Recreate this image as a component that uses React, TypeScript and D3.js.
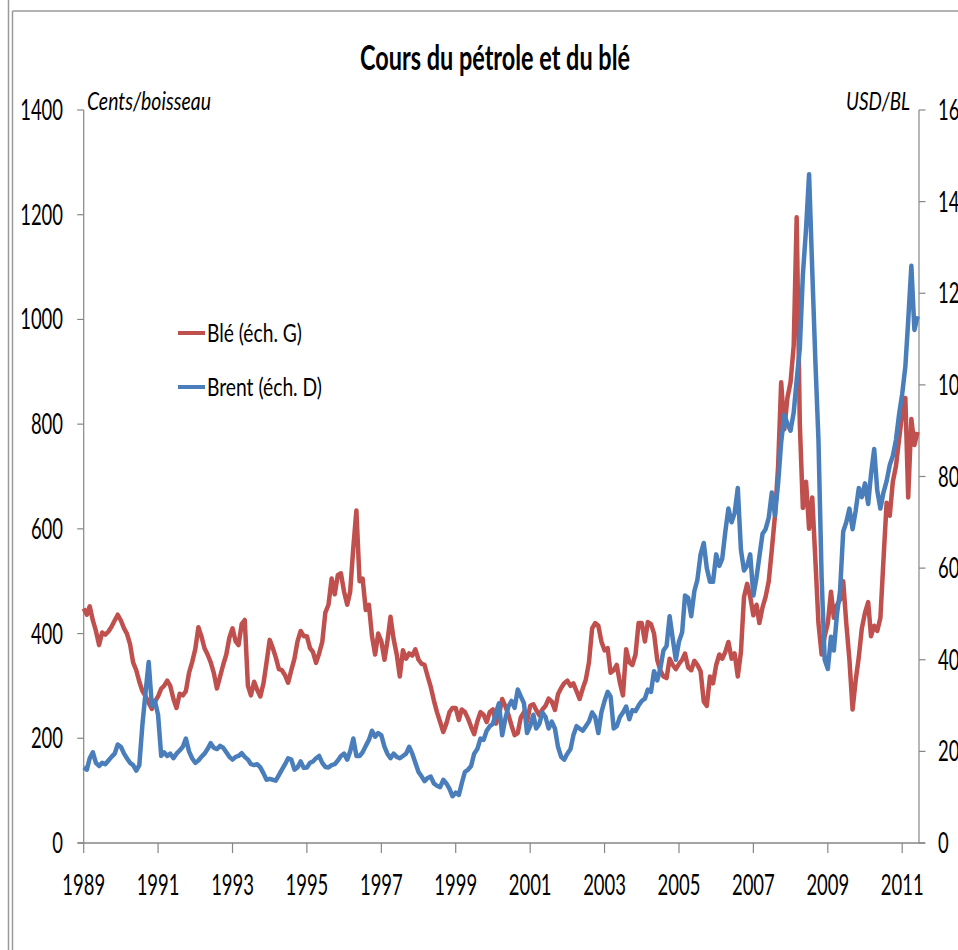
import React from "react";
import * as d3 from "d3";

// Monthly values, Jan 1989 .. Jun 2011
const wheatCents: number[] = [
  // 1989
  448, 436, 452, 425, 405, 378, 402, 398, 404, 413, 425, 436,
  // 1990
  425, 410, 400, 380, 345, 330, 308, 290, 280, 268, 256, 270,
  // 1991
  280, 295, 300, 310, 300, 275, 258, 285, 282, 290, 325, 345,
  // 1992
  370, 412, 395, 372, 360, 345, 325, 295, 318, 340, 360, 392,
  // 1993
  410, 385, 378, 418, 426, 300, 282, 308, 292, 280, 305, 345,
  // 1994
  388, 372, 355, 332, 330, 320, 306, 330, 352, 385, 405, 395,
  // 1995
  395, 372, 365, 344, 362, 384, 440, 455, 505, 475, 512, 515,
  // 1996
  480, 455, 480, 565, 635, 500, 505, 445, 455, 395, 360, 400,
  // 1997
  385, 350, 385, 432, 390, 360, 318, 368, 352, 362, 358, 370,
  // 1998
  350, 342, 340, 318, 298, 272, 250, 231, 212, 228, 250, 258,
  // 1999
  258, 235, 255, 250, 238, 222, 208, 232, 250, 245, 231, 250,
  // 2000
  255, 228, 245, 275, 262, 245, 225, 206, 210, 240, 250, 232,
  // 2001
  262, 265, 254, 244, 255, 262, 276, 270, 254, 284, 296, 305,
  // 2002
  310, 300, 305, 290, 275, 295, 312, 345, 410, 420, 415, 385,
  // 2003
  368, 372, 325, 330, 340, 306, 282, 370, 345, 340, 360, 420,
  // 2004
  420, 385, 422, 418, 400, 350, 330, 318, 315, 352, 340, 332,
  // 2005
  342, 350, 362, 335, 330, 348, 340, 328, 270, 262, 318, 305,
  // 2006
  340, 360, 352, 365, 384, 352, 362, 318, 365, 470, 495, 470,
  // 2007
  435, 455, 420, 450, 470, 500, 560, 625, 720, 880, 790, 850,
  // 2008
  880, 950, 1195, 800, 640, 690, 600, 660, 540, 420, 360, 395,
  // 2009
  420, 480, 430, 455, 465, 500, 420, 350, 255, 310, 355, 410,
  // 2010
  440, 460, 395, 415, 405, 430, 540, 650, 625, 690, 720, 770,
  // 2011
  820, 850, 660, 810, 760, 785,
];

const brentUsd: number[] = [
  // 1989
  16.5, 16.0, 18.5, 19.8, 17.5, 16.8, 17.5, 17.2, 18.0, 18.8, 19.5, 21.5,
  // 1990
  21.0, 19.5, 18.5, 17.5, 17.0, 15.8, 17.0, 26.0, 33.0, 39.5, 30.0, 31.0,
  // 1991
  28.0, 19.0, 19.8, 19.0, 19.5, 18.5, 19.5, 20.2, 21.0, 22.8, 20.0, 18.5,
  // 1992
  17.5, 18.0, 18.8, 19.5, 20.5, 21.8, 20.8, 20.5, 21.2, 20.8, 19.8, 18.8,
  // 1993
  18.2, 18.8, 19.0, 19.6, 18.8, 18.2, 17.2, 17.0, 17.2, 16.5, 15.2, 13.8,
  // 1994
  14.0, 13.8, 13.6, 14.8, 16.0, 17.2, 18.5, 18.2, 16.0, 16.5, 17.8, 16.4,
  // 1995
  16.5, 17.5, 17.8, 18.5, 19.0, 17.5, 16.6, 16.5, 17.0, 17.2, 18.0, 19.0,
  // 1996
  19.5, 18.2, 20.0, 22.8, 19.0, 19.0, 19.8, 21.2, 22.5, 24.5, 23.2, 24.0,
  // 1997
  23.5, 21.0, 19.5, 18.5, 19.5, 18.8, 18.5, 19.0, 19.5, 21.0, 19.5, 17.5,
  // 1998
  15.5, 14.5, 13.5, 14.2, 14.5, 13.0, 12.5, 12.2, 13.8, 13.0, 11.8, 10.2,
  // 1999
  11.0, 10.5, 13.0, 15.5, 16.0, 16.8, 19.5, 20.5, 22.8, 22.5, 24.5, 25.5,
  // 2000
  26.0, 28.5, 30.5, 23.5, 27.0, 29.8, 31.0, 29.5, 33.5, 32.0, 30.5, 24.0,
  // 2001
  25.5, 28.0, 25.0, 26.0, 28.5, 27.5, 25.0, 26.5, 25.0, 21.0, 18.8, 18.2,
  // 2002
  19.5, 20.5, 23.5, 25.5, 25.0, 24.5, 25.5, 26.5, 28.5, 27.5, 24.0, 28.5,
  // 2003
  31.0, 33.0, 32.0, 25.0, 25.5, 27.5, 28.5, 29.8, 27.0, 29.0, 28.8, 30.0,
  // 2004
  31.0, 31.5, 33.5, 33.0, 37.5, 35.5, 38.0, 42.0, 43.0, 49.5, 44.5, 40.0,
  // 2005
  44.0, 46.0, 54.0, 53.5, 49.5, 55.0, 57.5, 63.0, 65.5, 60.0, 57.0, 57.0,
  // 2006
  63.0, 60.5, 62.0, 68.0, 73.0, 70.0, 72.0, 77.5, 64.0, 59.5, 60.5, 63.0,
  // 2007
  54.0, 58.0, 62.5, 67.5, 68.5, 71.0, 76.5, 71.5, 78.5, 87.5, 93.5, 91.5,
  // 2008
  90.0, 94.0, 101.0, 108.0, 124.0, 134.0, 146.0, 125.0, 105.0, 88.0, 58.0, 40.0,
  // 2009
  38.0, 45.0, 42.0, 50.0, 55.0, 68.0, 70.0, 73.0, 68.5, 72.5, 77.5, 75.5,
  // 2010
  78.5, 74.0, 80.5, 86.0, 77.0, 73.0, 76.5, 79.0, 82.5, 84.5, 88.0, 93.5,
  // 2011
  98.0, 104.0, 114.0, 126.0, 112.0, 115.0,
];

const leftTicks = [0, 200, 400, 600, 800, 1000, 1200, 1400];
const rightTicks = [0, 20, 40, 60, 80, 100, 120, 140, 160];
const yearTicks = [1989, 1991, 1993, 1995, 1997, 1999, 2001, 2003, 2005, 2007, 2009, 2011];

const TITLE = "Cours du pétrole et du blé";
const LEFT_UNIT = "Cents/boisseau";
const RIGHT_UNIT = "USD/BL";
const LEGEND = ["Blé (éch. G)", "Brent (éch. D)"];

const RED = "#C0504D";
const BLUE = "#4A7EBB";
const AXIS = "#868686";
const FONT = "Lato, 'Open Sans', sans-serif";

const X0 = 83.7;
const X1 = 919;
const Y0 = 843;
const Y1 = 110;
const DIGIT_W = 10.7;

export default function App() {
  const x = d3
    .scaleTime()
    .domain([new Date(1989, 0, 1), new Date(2011, 5, 15)])
    .range([X0, X1]);
  const yL = d3.scaleLinear().domain([0, 1400]).range([Y0, Y1]);
  const yR = d3.scaleLinear().domain([0, 160]).range([Y0, Y1]);
  const dateOf = (i: number) => new Date(1989, i, 1);

  const wheatPath = d3
    .line<number>()
    .x((_, i) => x(dateOf(i)))
    .y((d) => yL(d))(wheatCents) as string;
  const brentPath = d3
    .line<number>()
    .x((_, i) => x(dateOf(i)))
    .y((d) => yR(d))(brentUsd) as string;

  const numText = (s: string) => s.length * DIGIT_W;

  return (
    <svg
      width={958}
      height={950}
      style={{ position: "absolute", left: 0, top: 0, background: "#fff" }}
    >
      <rect x={0} y={0} width={958} height={950} fill="#fff" />
      {/* frame */}
      <line x1={8.5} y1={0} x2={8.5} y2={950} stroke="#9a9a9a" strokeWidth={1.5} />
      <line x1={12.5} y1={11} x2={12.5} y2={950} stroke="#9a9a9a" strokeWidth={1.5} />
      <line x1={12.5} y1={11} x2={958} y2={11} stroke="#9a9a9a" strokeWidth={1.5} />

      {/* title */}
      <text
        x={495}
        y={70}
        textAnchor="middle"
        fontFamily={FONT}
        fontWeight="bold"
        fontSize={34}
        textLength={270}
        lengthAdjust="spacingAndGlyphs"
        fill="#000"
      >
        {TITLE}
      </text>

      {/* unit labels */}
      <text
        x={87}
        y={110}
        fontFamily={FONT}
        fontStyle="italic"
        fontSize={25}
        textLength={124}
        lengthAdjust="spacingAndGlyphs"
      >
        {LEFT_UNIT}
      </text>
      <text
        x={846}
        y={110}
        fontFamily={FONT}
        fontStyle="italic"
        fontSize={25}
        textLength={64}
        lengthAdjust="spacingAndGlyphs"
      >
        {RIGHT_UNIT}
      </text>

      {/* axes */}
      <line x1={X0} y1={Y1} x2={X0} y2={Y0} stroke={AXIS} strokeWidth={1.2} />
      <line x1={X1} y1={Y1} x2={X1} y2={Y0} stroke={AXIS} strokeWidth={1.2} />
      <line x1={X0 - 6} y1={Y0} x2={X1 + 6} y2={Y0} stroke={AXIS} strokeWidth={1.5} />

      {leftTicks.map((t) => (
        <g key={"l" + t}>
          <line x1={X0 - 6.5} x2={X0} y1={yL(t)} y2={yL(t)} stroke={AXIS} strokeWidth={1.2} />
          <text
            x={63 - numText(String(t))}
            y={yL(t) + 10}
            fontFamily={FONT}
            fontSize={28}
            textLength={numText(String(t))}
            lengthAdjust="spacingAndGlyphs"
          >
            {t}
          </text>
        </g>
      ))}

      {rightTicks.map((t) => (
        <g key={"r" + t}>
          <line x1={X1} x2={X1 + 6.5} y1={yR(t)} y2={yR(t)} stroke={AXIS} strokeWidth={1.2} />
          <text
            x={938}
            y={yR(t) + 10}
            fontFamily={FONT}
            fontSize={28}
            textLength={numText(String(t))}
            lengthAdjust="spacingAndGlyphs"
          >
            {t}
          </text>
        </g>
      ))}

      {yearTicks.map((yr) => {
        const px = x(new Date(yr, 0, 1));
        return (
          <g key={"y" + yr}>
            <line x1={px} x2={px} y1={Y0} y2={Y0 + 10} stroke={AXIS} strokeWidth={1.2} />
            <text
              x={px - numText(String(yr)) / 2}
              y={895}
              fontFamily={FONT}
              fontSize={28}
              textLength={numText(String(yr))}
              lengthAdjust="spacingAndGlyphs"
            >
              {yr}
            </text>
          </g>
        );
      })}

      {/* series */}
      <path d={wheatPath} fill="none" stroke={RED} strokeWidth={4.5} strokeLinejoin="round" />
      <path d={brentPath} fill="none" stroke={BLUE} strokeWidth={4.5} strokeLinejoin="round" />

      {/* legend */}
      <line x1={178} x2={205} y1={333} y2={333} stroke={RED} strokeWidth={4} />
      <text
        x={207}
        y={342}
        fontFamily={FONT}
        fontSize={25}
        textLength={95}
        lengthAdjust="spacingAndGlyphs"
      >
        {LEGEND[0]}
      </text>
      <line x1={178} x2={205} y1={387} y2={387} stroke={BLUE} strokeWidth={4} />
      <text
        x={207}
        y={396}
        fontFamily={FONT}
        fontSize={25}
        textLength={115}
        lengthAdjust="spacingAndGlyphs"
      >
        {LEGEND[1]}
      </text>
    </svg>
  );
}
